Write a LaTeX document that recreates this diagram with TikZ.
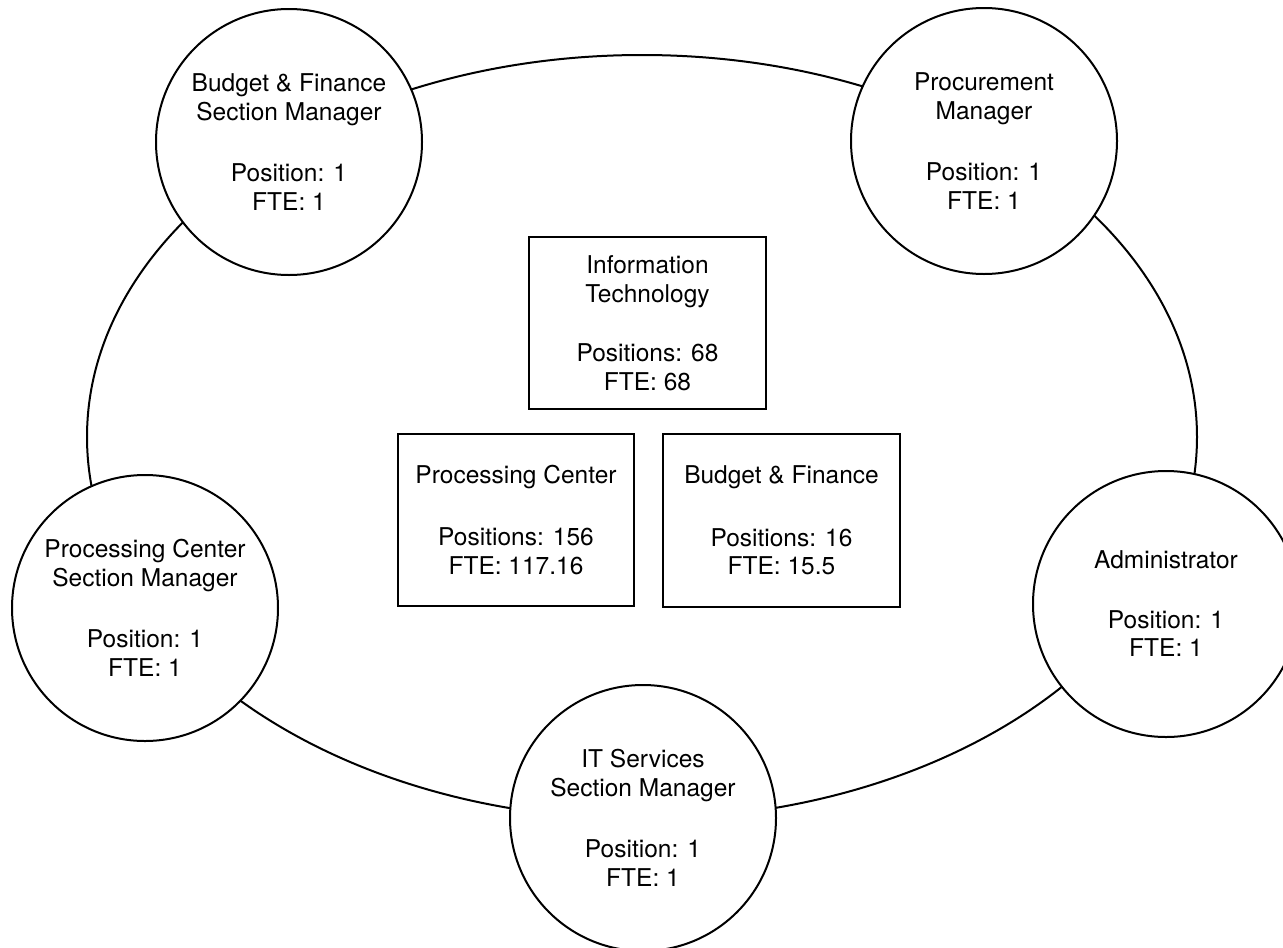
\documentclass[tikz,border=0pt]{standalone}
\usepackage{fontspec}
\setmainfont{TeX Gyre Heros}
\begin{document}
\begin{tikzpicture}[x=1pt,y=-1pt,
  every node/.style={font=\fontsize{24.5}{28.5}\selectfont, align=center, text=black},
  ring/.style={draw=black, line width=2pt},
  person/.style={circle, draw=black, fill=white, line width=2pt, minimum size=266pt, inner sep=0pt},
  unit/.style={rectangle, draw=black, fill=white, line width=2pt, inner sep=0pt}
]
\useasboundingbox (0,0) rectangle (1283,948);
\clip (0,0) rectangle (1283,948);
\fill[white] (0,0) rectangle (1283,948);

\coordinate (ctr) at (642,437);
\draw[ring] (ctr) ellipse [x radius=555pt, y radius=382pt];

\node[person] (bfsm) at (289,142) {Budget \& Finance\\Section Manager\\[33pt]Position: 1\\FTE: 1};
\node[person] (pm) at (984,141) {Procurement\\Manager\\[33pt]Position: 1\\FTE: 1};
\node[person] (pcsm) at (145,608) {Processing Center\\Section Manager\\[33pt]Position: 1\\FTE: 1};
\node[person] (adm) at (1166,604) {Administrator\\[31pt]Position: 1\\FTE: 1};
\node[person] (itsm) at (643,818) {IT Services\\Section Manager\\[33pt]Position: 1\\FTE: 1};

\node[unit, minimum width=237pt, minimum height=172pt] (it) at (647.5,323) {Information\\Technology\\[31pt]Positions: 68\\FTE: 68};
\node[unit, minimum width=236pt, minimum height=172pt] (pc) at (516,520) {Processing Center\\[34pt]Positions: 156\\FTE: 117.16};
\node[unit, minimum width=237pt, minimum height=173pt] (bf) at (781.5,520.5) {Budget \& Finance\\[34pt]Positions: 16\\FTE: 15.5};
\end{tikzpicture}
\end{document}
